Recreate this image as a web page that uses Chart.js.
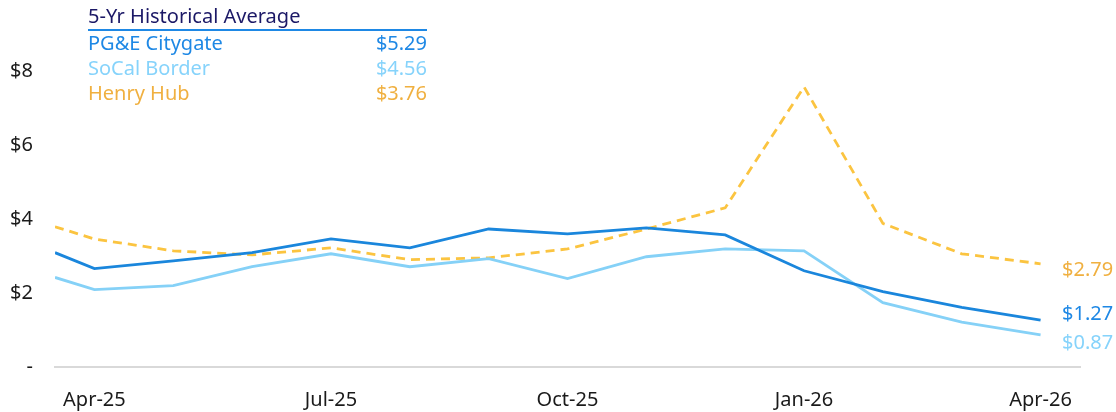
<!DOCTYPE html>
<html>
<head>
<meta charset="utf-8">
<script src="https://cdn.jsdelivr.net/npm/chart.js@4.4.1/dist/chart.umd.min.js"></script>
<style>
html,body{margin:0;padding:0;background:#fff;}
#wrap{width:1116px;height:412px;position:relative;}
</style>
</head>
<body>
<div id="wrap"><canvas id="c" width="1116" height="412"></canvas></div>
<script>
// month index of each point (-0.5 = start of the period before Apr-25)
const monthIndex = [-0.5, 0, 1, 2, 3, 4, 5, 6, 7, 8, 9, 10, 11, 12];
const monthLabels = ['Apr-25','May-25','Jun-25','Jul-25','Aug-25','Sep-25','Oct-25','Nov-25','Dec-25','Jan-26','Feb-26','Mar-26','Apr-26'];
const tickMonths = [0, 3, 6, 9, 12];

const pgeCitygate = [3.09, 2.66, 2.87, 3.09, 3.46, 3.22, 3.73, 3.60, 3.76, 3.57, 2.60, 2.04, 1.61, 1.27];
const socalBorder = [2.42, 2.09, 2.20, 2.71, 3.06, 2.71, 2.93, 2.39, 2.98, 3.19, 3.14, 1.74, 1.21, 0.87];
const henryHub    = [3.79, 3.46, 3.14, 3.03, 3.22, 2.90, 2.95, 3.19, 3.73, 4.30, 7.57, 3.88, 3.06, 2.79];

const seriesNames = ['PG&E Citygate', 'SoCal Border', 'Henry Hub'];
const histAverage = [5.29, 4.56, 3.76];
const legendTitle = '5-Yr Historical Average';
const yTicks = [0, 2, 4, 6, 8];

const FONT = '"Noto Sans", "Open Sans", sans-serif';
const lineColors = ['#1a86dc', '#85d1f7', '#fbc440'];
const textColors = ['#1e88e5', '#86d3fb', '#f0b040'];

const toPts = arr => arr.map((v, i) => ({x: monthIndex[i], y: v}));

const overlay = {
  id: 'overlay',
  afterDraw(chart) {
    const ctx = chart.ctx;
    const ys = chart.scales.y;
    ctx.save();
    // Legend table
    ctx.font = '20px ' + FONT;
    ctx.textBaseline = 'middle';
    ctx.textAlign = 'left';
    ctx.fillStyle = '#1b1866';
    ctx.fillText(legendTitle, 88, 17);
    ctx.strokeStyle = '#1e88e5';
    ctx.lineWidth = 2;
    ctx.beginPath(); ctx.moveTo(88, 30); ctx.lineTo(427, 30); ctx.stroke();
    seriesNames.forEach((n, i) => {
      const y = 44 + i * 25;
      ctx.fillStyle = textColors[i];
      ctx.textAlign = 'left';
      ctx.fillText(n, 88, y);
      ctx.textAlign = 'right';
      ctx.fillText('$' + histAverage[i].toFixed(2), 427, y);
    });
    // end labels
    ctx.textAlign = 'left';
    const sets = [pgeCitygate, socalBorder, henryHub];
    const offs = [-6, 8, 7];
    sets.forEach((s, i) => {
      const v = s[s.length - 1];
      ctx.fillStyle = textColors[i];
      ctx.fillText('$' + v.toFixed(2), 1062, ys.getPixelForValue(v) + offs[i]);
    });
    ctx.restore();
  }
};

new Chart(document.getElementById('c'), {
  type: 'line',
  data: {
    datasets: [
      {label: seriesNames[0], data: toPts(pgeCitygate), borderColor: lineColors[0], borderWidth: 2.8, pointRadius: 0, tension: 0},
      {label: seriesNames[1], data: toPts(socalBorder), borderColor: lineColors[1], borderWidth: 2.8, pointRadius: 0, tension: 0},
      {label: seriesNames[2], data: toPts(henryHub), borderColor: lineColors[2], borderWidth: 2.8, borderDash: [9, 6], pointRadius: 0, tension: 0}
    ]
  },
  options: {
    responsive: false,
    animation: false,
    layout: {padding: {top: 32, right: 36, left: 0, bottom: 0}},
    plugins: {legend: {display: false}, tooltip: {enabled: false}},
    scales: {
      x: {
        type: 'linear', min: -0.5, max: 12.5,
        afterBuildTicks(scale) { scale.ticks = tickMonths.map(v => ({value: v})); },
        afterFit(scale) { scale.height = 45; },
        grid: {display: false, drawTicks: false},
        border: {display: true, color: '#d9d9d9', width: 2},
        ticks: {
          padding: 21, maxRotation: 0, autoSkip: false,
          color: '#1a1a1a', font: {family: FONT, size: 20},
          callback: v => monthLabels[v] || ''
        }
      },
      y: {
        min: 0, max: 9,
        afterBuildTicks(scale) { scale.ticks = yTicks.map(v => ({value: v})); },
        afterFit(scale) { scale.width = 55; },
        grid: {display: false, drawTicks: false},
        border: {display: false},
        ticks: {
          padding: 22,
          color: '#1a1a1a', font: {family: FONT, size: 20},
          callback: v => v === 0 ? '-' : '$' + v
        }
      }
    }
  },
  plugins: [overlay]
});
</script>
</body>
</html>
